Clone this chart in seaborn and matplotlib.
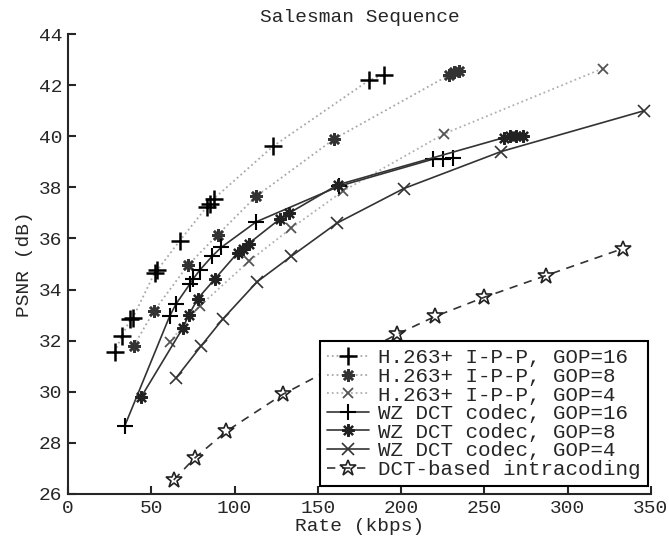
import pandas as pd
import matplotlib
matplotlib.use('Agg')
import matplotlib.pyplot as plt
import seaborn as sns

# puntos (Rate en kbps, PSNR en dB)
h16_rate = [28, 32.5, 37.5, 39, 52, 53.5, 67, 83.5, 85.5, 87.5, 123, 181, 190]
h16_psnr = [31.55, 32.2, 32.85, 32.9, 34.65, 34.75, 35.9, 37.25, 37.35, 37.55, 39.6, 42.2, 42.4]

h8_rate = [39.5, 51.5, 72, 90, 113, 160, 229, 232, 235]
h8_psnr = [31.8, 33.15, 34.95, 36.15, 37.65, 39.9, 42.4, 42.5, 42.55]

h4_rate = [61, 79, 108.5, 134, 165, 226, 321]
h4_psnr = [31.95, 33.35, 35.1, 36.4, 37.85, 40.1, 42.65]

wz16_rate = [34, 61, 65, 73, 75, 79, 86.5, 92, 113, 163, 219, 225, 231]
wz16_psnr = [28.65, 32.95, 33.45, 34.2, 34.4, 34.75, 35.3, 35.65, 36.65, 38.05, 39.1, 39.1, 39.15]

wz8_rate = [44, 69, 72.5, 78, 88, 102, 105, 108.5, 127, 133, 162, 262, 265.5, 269, 273]
wz8_psnr = [29.8, 32.5, 33.0, 33.65, 34.4, 35.45, 35.6, 35.8, 36.75, 37.0, 38.1, 39.95, 40.0, 40.0, 40.0]

wz4_rate = [65, 80, 93, 113.5, 134, 161.5, 201.5, 260, 346]
wz4_psnr = [30.55, 31.8, 32.85, 34.3, 35.3, 36.6, 37.95, 39.4, 41.0]

dct_rate = [63.5, 76, 95, 129, 197.5, 220.5, 250, 287, 333]
dct_psnr = [26.55, 27.4, 28.45, 29.9, 32.25, 32.95, 33.7, 34.55, 35.6]

labels = ['H.263+ I-P-P, GOP=16', 'H.263+ I-P-P, GOP=8', 'H.263+ I-P-P, GOP=4',
          'WZ DCT codec, GOP=16', 'WZ DCT codec, GOP=8', 'WZ DCT codec, GOP=4',
          'DCT-based intracoding']

sns.set_style('ticks')
plt.rcParams['font.family'] = ['Liberation Mono', 'DejaVu Sans Mono']
plt.rcParams['font.size'] = 14

fig = plt.figure(figsize=(6.69, 5.40), dpi=100)
ax = fig.add_axes([0.1016, 0.0852, 0.8714, 0.8518])

asterisco = (8, 2, 0)

# estilos de cada serie
series = [
    (h16_rate, h16_psnr, dict(linestyle=':', color='#a8a8a8', lw=1.3, marker='+', markersize=13,
                              markeredgecolor='black', markeredgewidth=1.8)),
    (h8_rate, h8_psnr, dict(linestyle=':', color='#a8a8a8', lw=1.3, marker=asterisco, markersize=9,
                            markeredgecolor='#333333', markeredgewidth=1.8)),
    (h4_rate, h4_psnr, dict(linestyle=':', color='#b0b0b0', lw=1.3, marker='x', markersize=7,
                            markeredgecolor='#555555', markeredgewidth=1.3)),
    (wz16_rate, wz16_psnr, dict(linestyle='-', color='#333333', lw=1.2, marker='+', markersize=12,
                                markeredgecolor='black', markeredgewidth=1.5)),
    (wz8_rate, wz8_psnr, dict(linestyle='-', color='#333333', lw=1.2, marker=asterisco, markersize=9,
                              markeredgecolor='#222222', markeredgewidth=1.6)),
    (wz4_rate, wz4_psnr, dict(linestyle='-', color='#333333', lw=1.2, marker='x', markersize=8,
                              markeredgecolor='#333333', markeredgewidth=1.2)),
    (dct_rate, dct_psnr, dict(linestyle=(0, (5, 4)), color='#333333', lw=1.2, marker='*', markersize=12,
                              markerfacecolor='none', markeredgecolor='#222222', markeredgewidth=1.2)),
]

for (rate, psnr, estilo), nombre in zip(series, labels):
    df = pd.DataFrame({'rate': rate, 'psnr': psnr})
    sns.lineplot(data=df, x='rate', y='psnr', ax=ax, label=nombre,
                 estimator=None, sort=False, **estilo)

ax.set_xlim(0, 350)
ax.set_ylim(26, 44)
ax.set_xticks(range(0, 351, 50))
ax.set_yticks(range(26, 45, 2))
ax.tick_params(direction='in', length=6, width=1.5, pad=4, labelsize=14)
for lado in ['top', 'right']:
    ax.spines[lado].set_visible(False)
for lado in ['left', 'bottom']:
    ax.spines[lado].set_linewidth(1.5)

ax.set_title('Salesman Sequence', fontsize=14, pad=9)
ax.set_xlabel('Rate (kbps)', fontsize=14, labelpad=1)
ax.set_ylabel('PSNR (dB)', fontsize=14, labelpad=4)

h, l = ax.get_legend_handles_labels()
leg = ax.legend(h, l, loc='lower right', bbox_to_anchor=(0.995, 0.017), borderaxespad=0,
                fancybox=False, framealpha=1, edgecolor='black', fontsize=15,
                labelspacing=-0.02, handlelength=2.0, handletextpad=0.45, borderpad=0.35)
leg.get_frame().set_linewidth(1.5)

fig.savefig('out.png', dpi=100)
